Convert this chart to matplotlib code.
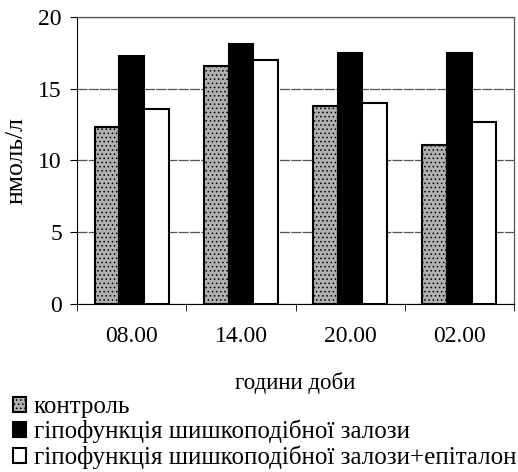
import numpy as np
import matplotlib.pyplot as plt

plt.rcParams['font.family'] = ['Liberation Serif', 'DejaVu Serif']
plt.rcParams['hatch.linewidth'] = 0.6

hours = ['08.00', '14.00', '20.00', '02.00']
control = [12.3, 16.6, 13.8, 11.1]
hypo = [17.3, 18.1, 17.5, 17.5]
hypo_epi = [13.6, 17.0, 14.0, 12.7]
names = ['контроль', 'гіпофункція шишкоподібної залози',
         'гіпофункція шишкоподібної залози+епіталон']

fig = plt.figure(figsize=(5.18, 4.72), dpi=100)
ax = fig.add_axes([0.149, 0.356, 0.843, 0.608])

x = np.arange(len(hours))
w = 0.227
plt.rcParams['hatch.color'] = '#555555'
ax.bar(x - w, control, w, color='#b0b0b0', edgecolor='black', linewidth=1.5,
       hatch='....', label=names[0], zorder=3)
ax.bar(x, hypo, w, color='black', edgecolor='black', linewidth=1.5,
       label=names[1], zorder=3)
ax.bar(x + w, hypo_epi, w, color='white', edgecolor='black', linewidth=1.5,
       label=names[2], zorder=3)

ax.set_xlim(-0.5, 3.5)
ax.set_ylim(0, 20)
ax.set_yticks([0, 5, 10, 15, 20])
ax.set_xticks(x)
ax.set_xticklabels(hours)
ax.set_xticks(np.arange(-0.5, 4.0, 1.0), minor=True)
ax.tick_params(axis='x', which='major', length=0, pad=16, labelsize=17)
ax.tick_params(axis='x', which='minor', length=5, direction='out')
ax.tick_params(axis='y', length=5, direction='out', labelsize=17, pad=6)
ax.grid(axis='y', color='#555555', linestyle=(0, (8, 1)), linewidth=0.9, zorder=0)
for s in ['top', 'right']:
    ax.spines[s].set_color('#555555')
    ax.spines[s].set_linestyle((0, (8, 1)))
    ax.spines[s].set_linewidth(0.9)
ax.spines['left'].set_linewidth(0.8)
ax.spines['bottom'].set_linewidth(0.8)

ax.set_ylabel('нмоль/л', fontsize=18.5, labelpad=8)
ax.set_xlabel('години доби', fontsize=16.5, labelpad=18)

h, l = ax.get_legend_handles_labels()
fig.legend(h, l, loc='lower left', bbox_to_anchor=(0.0, -0.02), frameon=False,
           fontsize=18, handlelength=0.55, handleheight=0.55,
           handletextpad=0.3, labelspacing=0.08, borderaxespad=0.1)

fig.savefig('out.png', dpi=100)
